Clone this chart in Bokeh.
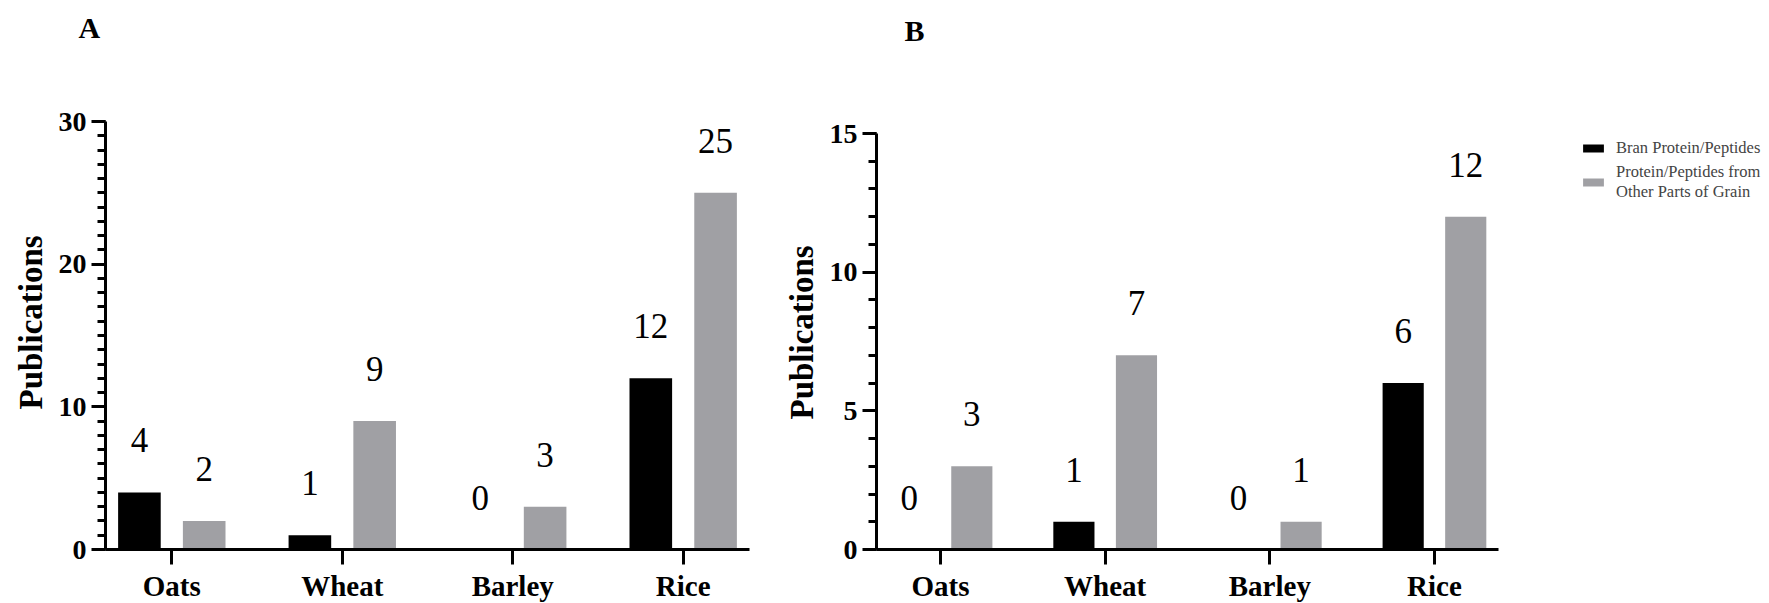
from bokeh.plotting import figure
from bokeh.models import (ColumnDataSource, FactorRange, Range1d, SingleIntervalTicker,
                          Legend, LegendItem, Title)
from bokeh.transform import dodge
from bokeh.layouts import row
from bokeh.core.properties import value
from bokeh.embed import file_html
from bokeh.resources import INLINE

# Publication counts per grain, for the two panels
grains = ["Oats", "Wheat", "Barley", "Rice"]
series_names = ["Bran Protein/Peptides", "Protein/Peptides from\nOther Parts of Grain"]
y_title = "Publications"

panel_a_bran = [4, 1, 0, 12]
panel_a_other = [2, 9, 3, 25]

panel_b_bran = [0, 1, 0, 6]
panel_b_other = [3, 7, 1, 12]

panel_a_ymax, panel_a_step = 30, 10
panel_b_ymax, panel_b_step = 15, 5

SERIF = "Liberation Serif"
BLACK = "#000000"
GRAY = "#a0a0a4"
BAR_W = 0.25
DODGE = 0.19

FRAME_TOP = 50      # room above the plotting area for the panel letter
FRAME_H = 499       # both panels share the same plotting height


def make_panel(letter, bran, other, ymax, step, axis_px, frame_w, border_left, border_right,
               letter_offset, letter_standoff, ytitle_offset):
    src = ColumnDataSource(dict(
        grain=grains, bran=bran, other=other,
        bran_txt=[str(v) for v in bran], other_txt=[str(v) for v in other],
    ))
    # the visible axis spans axis_px pixels; the range runs on to the top of the area
    y_end = ymax * FRAME_H / axis_px
    x_range = FactorRange(*grains, range_padding=-0.111, range_padding_units="absolute")
    p = figure(x_range=x_range, y_range=Range1d(0, y_end),
               frame_width=frame_w, frame_height=FRAME_H,
               min_border_left=border_left, min_border_right=border_right,
               min_border_top=FRAME_TOP, min_border_bottom=0,
               title=letter, output_backend="svg", toolbar_location=None)
    p.xgrid.visible = False
    p.ygrid.visible = False
    p.outline_line_color = None
    p.background_fill_color = "white"

    # panel letter
    p.title.align = "left"
    p.title.vertical_align = "bottom"
    p.title.offset = letter_offset
    p.title.standoff = letter_standoff
    p.title.text_font = SERIF
    p.title.text_font_style = "bold"
    p.title.text_font_size = "30px"
    p.title.text_color = "black"

    r_bran = p.vbar(x=dodge("grain", -DODGE, range=p.x_range), top="bran", width=BAR_W,
                    source=src, fill_color=BLACK, line_color=None)
    r_other = p.vbar(x=dodge("grain", DODGE, range=p.x_range), top="other", width=BAR_W,
                     source=src, fill_color=GRAY, line_color=None)

    for col, off in (("bran", -DODGE), ("other", DODGE)):
        p.text(x=dodge("grain", off, range=p.x_range), y=col, text=col + "_txt", source=src,
               text_align="center", text_baseline="middle", y_offset=-52,
               text_font=value(SERIF), text_font_size="35px", text_color="black")

    for ax in (p.xaxis[0], p.yaxis[0]):
        ax.axis_line_width = 3
        ax.axis_line_color = "black"
        ax.major_tick_line_width = 3
        ax.major_tick_line_color = "black"
        ax.major_tick_in = 0
        ax.major_label_text_font = SERIF
        ax.major_label_text_font_style = "bold"
        ax.major_label_text_color = "black"

    p.xaxis.major_label_text_font_size = "29px"
    p.xaxis.major_tick_out = 15
    p.xaxis.major_label_standoff = 5

    p.yaxis.bounds = (0, ymax)
    p.yaxis.major_label_text_font_size = "28px"
    p.yaxis.ticker = SingleIntervalTicker(interval=step, num_minor_ticks=step)
    p.yaxis.major_tick_out = 14
    p.yaxis.minor_tick_out = 8
    p.yaxis.minor_tick_in = 0
    p.yaxis.minor_tick_line_width = 3
    p.yaxis.minor_tick_line_color = "black"
    p.yaxis.major_label_standoff = 5

    # y title, centred on the visible part of the axis
    p.add_layout(Title(text=y_title, align="left", vertical_align="top",
                       offset=ytitle_offset, standoff=10,
                       text_font=SERIF, text_font_style="bold", text_font_size="33px",
                       text_color="black"), "left")

    return p, r_bran, r_other


pa, _, _ = make_panel("A", panel_a_bran, panel_a_other, panel_a_ymax, panel_a_step,
                      428, 644, 105, 11, -27, 14, 140)
pb, rb_bran, rb_other = make_panel("B", panel_b_bran, panel_b_other, panel_b_ymax, panel_b_step,
                                   416, 622, 116, 0, 28, 7, 130)

legend = Legend(items=[LegendItem(label=series_names[0], renderers=[rb_bran]),
                       LegendItem(label=series_names[1], renderers=[rb_other])],
                location=(82, 347), orientation="vertical",
                border_line_color=None, background_fill_alpha=0,
                padding=0, margin=0, spacing=4,
                glyph_width=26, glyph_height=10, label_standoff=10,
                label_text_font=SERIF, label_text_font_size="16.5px", label_height=18)
pb.add_layout(legend, "right")

layout = row(pa, pb)
open("out.html", "w").write(file_html(layout, INLINE))
